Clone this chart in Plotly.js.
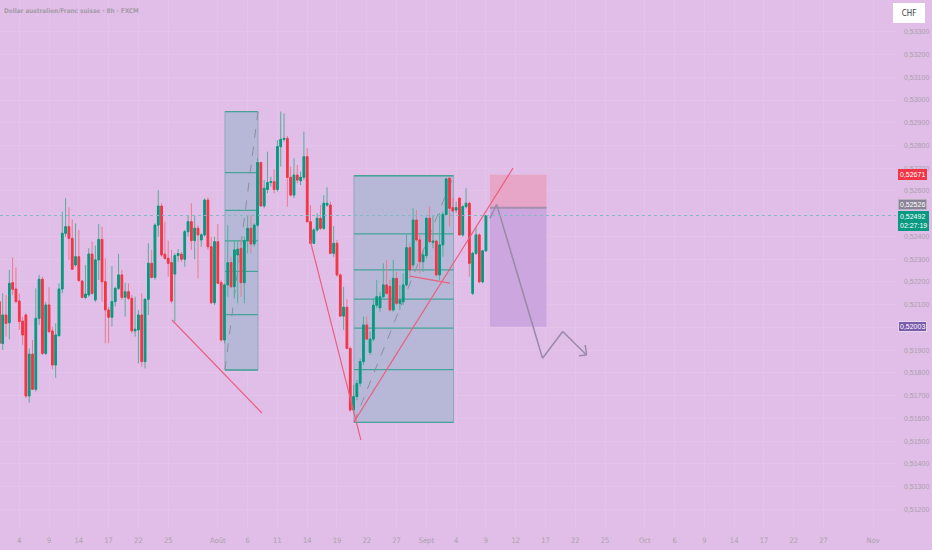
<!DOCTYPE html>
<html><head><meta charset="utf-8">
<script src="https://cdn.plot.ly/plotly-3.0.1.min.js"></script>
<style>html,body{margin:0;padding:0;background:#E1BEE7;}#chart{width:932px;height:550px;}</style>
</head><body><div id="chart"></div>
<script>
// ---- data (AUD/CHF, 8h candles from 2 Jul 2025) ----
const openP = [0.52114,0.51930,0.52055,0.52021,0.52197,0.52169,0.52116,0.52028,0.52055,0.51699,
0.51883,0.51728,0.52040,0.52212,0.51886,0.52099,0.51985,0.51835,0.51964,0.52169,
0.52414,0.52443,0.52392,0.52275,0.52311,0.52204,0.52132,0.52143,0.52323,0.52121,
0.52297,0.52387,0.52201,0.52077,0.52045,0.52114,0.52172,0.52231,0.52133,0.52157,
0.52128,0.51985,0.51989,0.52055,0.51850,0.52124,0.52282,0.52220,0.52450,0.52534,
0.52322,0.52304,0.52285,0.52235,0.52316,0.52322,0.52300,0.52421,0.52465,0.52382,
0.52436,0.52385,0.52407,0.52560,0.52355,0.52109,0.52377,0.52197,0.51945,0.52187,
0.52285,0.52179,0.52319,0.52348,0.52197,0.52382,0.52436,0.52367,0.52450,0.52725,
0.52534,0.52607,0.52637,0.52641,0.52607,0.52795,0.52827,0.52831,0.52660,0.52582,
0.52670,0.52645,0.52660,0.52751,0.52465,0.52370,0.52429,0.52480,0.52436,0.52538,
0.52538,0.52326,0.52370,0.52231,0.52050,0.52089,0.51908,0.51637,0.51696,0.51755,
0.51850,0.52011,0.51890,0.51949,0.52098,0.52087,0.52135,0.52187,0.52180,0.52077,
0.52216,0.52106,0.52113,0.52187,0.52351,0.52275,0.52472,0.52385,0.52289,0.52316,
0.52480,0.52374,0.52380,0.52231,0.52363,0.52497,0.52656,0.52527,0.52516,0.52568,
0.52407,0.52531,0.52546,0.52150,0.52326,0.52407,0.52201,0.52337];
const highP = [0.52150,0.52150,0.52143,0.52253,0.52308,0.52264,0.52150,0.52047,0.52062,0.51908,
0.51945,0.52172,0.52231,0.52223,0.52113,0.52177,0.52004,0.52018,0.52194,0.52509,
0.52568,0.52528,0.52475,0.52458,0.52429,0.52209,0.52275,0.52348,0.52377,0.52360,
0.52455,0.52443,0.52304,0.52091,0.52270,0.52179,0.52323,0.52253,0.52197,0.52194,
0.52143,0.52135,0.52077,0.52150,0.52128,0.52370,0.52341,0.52458,0.52604,0.52546,
0.52465,0.52382,0.52341,0.52326,0.52345,0.52333,0.52429,0.52494,0.52546,0.52494,
0.52450,0.52414,0.52568,0.52572,0.52399,0.52399,0.52455,0.52209,0.52194,0.52450,
0.52311,0.52385,0.52385,0.52385,0.52399,0.52494,0.52494,0.52458,0.52744,0.52729,
0.52648,0.52773,0.52663,0.52695,0.52824,0.52949,0.52941,0.52842,0.52707,0.52744,
0.52714,0.52685,0.52861,0.52788,0.52538,0.52436,0.52502,0.52538,0.52582,0.52616,
0.52553,0.52446,0.52385,0.52238,0.52179,0.52124,0.51916,0.51747,0.51769,0.51864,
0.52048,0.52048,0.51982,0.52128,0.52209,0.52157,0.52282,0.52297,0.52209,0.52297,
0.52245,0.52187,0.52238,0.52414,0.52370,0.52524,0.52516,0.52407,0.52341,0.52487,
0.52531,0.52494,0.52385,0.52502,0.52509,0.52658,0.52663,0.52568,0.52553,0.52575,
0.52538,0.52612,0.52553,0.52333,0.52443,0.52414,0.52341,0.52494];
const lowP = [0.51857,0.51901,0.51960,0.51948,0.52143,0.52106,0.51989,0.51923,0.51689,0.51669,
0.51725,0.51718,0.52011,0.51879,0.51879,0.51974,0.51816,0.51779,0.51960,0.52150,
0.52399,0.52297,0.52253,0.52267,0.52202,0.52128,0.52125,0.52135,0.52143,0.52113,
0.52209,0.52113,0.51930,0.51930,0.52004,0.52092,0.52165,0.52121,0.52048,0.52121,
0.51974,0.51960,0.51842,0.51828,0.51820,0.52055,0.52216,0.52209,0.52399,0.52311,
0.52297,0.52223,0.52106,0.52026,0.52290,0.52289,0.52267,0.52399,0.52341,0.52300,
0.52216,0.52355,0.52399,0.52341,0.52103,0.52099,0.52194,0.51938,0.51930,0.52135,
0.52172,0.52135,0.52106,0.52135,0.52106,0.52326,0.52326,0.52355,0.52443,0.52531,
0.52524,0.52590,0.52619,0.52590,0.52597,0.52707,0.52817,0.52531,0.52575,0.52568,
0.52634,0.52626,0.52648,0.52461,0.52367,0.52367,0.52421,0.52429,0.52429,0.52531,
0.52323,0.52311,0.52223,0.52048,0.51989,0.51904,0.51630,0.51623,0.51681,0.51740,
0.51835,0.51945,0.51879,0.51938,0.52084,0.52069,0.52128,0.52143,0.52069,0.52069,
0.52099,0.52077,0.52099,0.52180,0.52216,0.52260,0.52377,0.52238,0.52245,0.52304,
0.52370,0.52348,0.52223,0.52209,0.52311,0.52494,0.52443,0.52509,0.52502,0.52403,
0.52399,0.52524,0.52223,0.52143,0.52319,0.52194,0.52194,0.52333];
const closeP = [0.51930,0.52055,0.52018,0.52194,0.52168,0.52114,0.52026,0.51967,0.51699,0.51883,
0.51728,0.52040,0.52212,0.51886,0.52099,0.51982,0.51835,0.51967,0.52169,0.52414,
0.52443,0.52392,0.52256,0.52311,0.52206,0.52132,0.52147,0.52323,0.52150,0.52297,
0.52387,0.52201,0.52077,0.52045,0.52114,0.52172,0.52231,0.52132,0.52157,0.52128,
0.51985,0.51992,0.52055,0.51850,0.52124,0.52282,0.52220,0.52450,0.52534,0.52319,
0.52304,0.52282,0.52116,0.52316,0.52325,0.52300,0.52421,0.52465,0.52382,0.52436,
0.52407,0.52407,0.52560,0.52355,0.52109,0.52377,0.52194,0.51945,0.52187,0.52285,
0.52179,0.52341,0.52344,0.52197,0.52382,0.52436,0.52367,0.52450,0.52725,0.52534,
0.52612,0.52637,0.52641,0.52607,0.52795,0.52827,0.52831,0.52660,0.52582,0.52670,
0.52648,0.52660,0.52751,0.52465,0.52370,0.52429,0.52480,0.52436,0.52546,0.52546,
0.52326,0.52370,0.52231,0.52050,0.52089,0.51908,0.51637,0.51696,0.51754,0.51850,
0.52011,0.51949,0.51949,0.52098,0.52135,0.52135,0.52187,0.52150,0.52077,0.52216,
0.52106,0.52121,0.52187,0.52351,0.52253,0.52472,0.52385,0.52289,0.52319,0.52480,
0.52377,0.52380,0.52231,0.52363,0.52497,0.52653,0.52524,0.52512,0.52527,0.52407,
0.52531,0.52546,0.52282,0.52326,0.52407,0.52201,0.52337,0.52492];

const tickDates = ['2025-07-04','2025-07-09','2025-07-14','2025-07-17','2025-07-22','2025-07-25',
'2025-08-01','2025-08-06','2025-08-11','2025-08-14','2025-08-19','2025-08-22','2025-08-27',
'2025-09-01','2025-09-04','2025-09-09','2025-09-12','2025-09-17','2025-09-22','2025-09-25',
'2025-10-01','2025-10-06','2025-10-09','2025-10-14','2025-10-17','2025-10-22','2025-10-27','2025-11-03'];
const tickText = ['4','9','14','17','22','25','Août','6','11','14','19','22','27',
'Sept','4','9','12','17','22','25','Oct','6','9','14','17','22','27','Nov'];
const priceTicks = [0.512,0.513,0.514,0.515,0.516,0.517,0.518,0.519,0.520,0.521,0.522,
0.523,0.524,0.525,0.526,0.527,0.528,0.529,0.530,0.531,0.532,0.533];
const hiddenPriceTicks = [0.520,0.525]; // covered by the price labels in the original
const fibLevels = [0,0.236,0.382,0.5,0.618,0.786,1];
const stopPrice = 0.52671, entryPrice = 0.52526, targetPrice = 0.52003, lastPrice = 0.52492;
const countdown = '02:27:19';
const titleText = 'Dollar australien/Franc suisse · 8h · FXCM';

// ---- helpers ----
const START = Date.UTC(2025,6,2);
function barTime(k){ // k = bar index (8h bars, weekdays only)
  const d = Math.floor(k/3);
  const hrs = (k - 3*d)*8;
  const dt = new Date(START);
  let n = d;
  while(n>0){ dt.setUTCDate(dt.getUTCDate()+1); const w = dt.getUTCDay(); if(w!==0 && w!==6) n--; }
  const t = new Date(dt.getTime() + hrs*3600000);
  return t.toISOString().replace('T',' ').slice(0,19);
}
const fmt = p => p.toFixed(5).replace('.',',');
const times = openP.map((_,i)=>barTime(i));
const bodyHigh = openP.map((o,i)=>Math.max(o,closeP[i]));
const bodyLow = openP.map((o,i)=>Math.min(o,closeP[i]));
const priceTickText = priceTicks.map(p => hiddenPriceTicks.some(h=>Math.abs(h-p)<1e-9) ? '' : fmt(p));

const GREEN='#089981', RED='#f23645';
const wicks = {type:'candlestick', x:times, open:openP, high:highP, low:lowP, close:closeP,
  increasing:{line:{color:'#52ae9c',width:1},fillcolor:'#52ae9c'},
  decreasing:{line:{color:'#ee7890',width:1},fillcolor:'#ee7890'},
  whiskerwidth:0, hoverinfo:'skip', showlegend:false};
const bodies = {type:'candlestick', x:times, open:openP, high:bodyHigh, low:bodyLow, close:closeP,
  increasing:{line:{color:GREEN,width:1},fillcolor:GREEN},
  decreasing:{line:{color:RED,width:1},fillcolor:RED},
  whiskerwidth:0, hoverinfo:'skip', showlegend:false};

// ---- drawings ----
const shapes = [];
function seg(k0,p0,k1,p1,color,width,dash,layer){
  shapes.push({type:'line',xref:'x',yref:'y',x0:barTime(k0),y0:p0,x1:barTime(k1),y1:p1,
    line:{color:color,width:width,dash:dash||'solid'},layer:layer||'above'});
}
function fib(k0,k1,top,bottom){
  shapes.push({type:'rect',xref:'x',yref:'y',x0:barTime(k0),x1:barTime(k1),y0:bottom,y1:top,
    fillcolor:'#b7b8d8',line:{color:'#8fa9bd',width:1},layer:'between'});
  fibLevels.forEach(l=>{
    const p = top - l*(top-bottom);
    seg(k0,p,k1,p,'#45a39a',1.3,'solid','between');
  });
  seg(k0,bottom,k1,top,'#8c8c9e',1,'dash','between');
}
fib(68.15,78.13,0.52949,0.51813);
fib(107.13,137.2,0.52667,0.51583);
// position tool
shapes.push({type:'rect',xref:'x',yref:'y',x0:barTime(148.2),x1:barTime(165.3),y0:entryPrice,y1:stopPrice,
  fillcolor:'#e7a5c7',line:{width:0},layer:'between'});
shapes.push({type:'rect',xref:'x',yref:'y',x0:barTime(148.2),x1:barTime(165.3),y0:targetPrice,y1:entryPrice,
  fillcolor:'#cca6de',line:{width:0},layer:'between'});
seg(148.2,entryPrice,165.3,entryPrice,'#a48fae',2,'solid','between');
// trend lines
const TL='#ec5f80';
seg(52.15,0.52033,79.33,0.51624,TL,1.2);
seg(93.84,0.52385,109.24,0.51505,TL,1.2);
seg(107.13,0.51585,155.2,0.52701,TL,1.2);
seg(124.05,0.52226,136.1,0.52195,TL,1.2);
// projected path
const AR='#9a89a8';
seg(148.2,0.52480,150.24,0.52541,AR,1.5);
seg(150.24,0.52541,164.1,0.51865,AR,1.5);
seg(164.1,0.51865,170.2,0.51982,AR,1.5);
seg(170.2,0.51982,177.4,0.51879,AR,1.5);
seg(177.4,0.51879,177.0,0.51923,AR,1.5);
seg(177.4,0.51879,175.1,0.51876,AR,1.5);
// last price line
shapes.push({type:'line',xref:'paper',x0:0,x1:1,yref:'y',y0:lastPrice,y1:lastPrice,
  line:{color:'#7dbac6',width:1,dash:'dot'},layer:'above'});

const FONT = 'DejaVu Sans Condensed, Liberation Sans, sans-serif';
const NUMFONT = 'Liberation Sans, Arial, sans-serif';
const lab = (y,text,bg,ys,border)=>({xref:'paper',x:1,xanchor:'left',xshift:2,yref:'y',y:y,yanchor:'middle',yshift:ys,
  text:text,showarrow:false,bgcolor:bg,bordercolor:border||bg,borderwidth:1,borderpad:1,
  font:{family:NUMFONT,size:7,color:'#ffffff'},align:'left'});
const annotations = [
  lab(stopPrice,fmt(stopPrice),RED,0),
  lab(entryPrice,fmt(entryPrice),'#8a8596',3.3,'#b6b0c0'),
  lab(lastPrice,fmt(lastPrice)+'<br>'+countdown,GREEN,-5.4),
  lab(targetPrice,fmt(targetPrice),'#7b5cab',0,'#e4d6f0'),
  {xref:'paper',x:1,xanchor:'left',xshift:-3,yref:'paper',y:1,yanchor:'top',yshift:-3,
   text:'CHF',showarrow:false,bgcolor:'#ffffff',bordercolor:'#ffffff',borderpad:2,width:26,height:14,
   font:{family:FONT,size:8,color:'#3a3a44'}}
];

const layout = {
  width:932, height:550,
  margin:{l:0,r:36,t:0,b:22},
  paper_bgcolor:'#E1BEE7', plot_bgcolor:'#E1BEE7',
  separators:', ',
  showlegend:false,
  title:{text:titleText, xref:'container', x:4/932, xanchor:'left', yref:'container', y:1-11/550, yanchor:'middle',
    font:{family:FONT,size:6.4,color:'#a39ca7',weight:'bold'}},
  xaxis:{type:'date', rangeslider:{visible:false}, rangebreaks:[{bounds:['sat','mon']}],
    range:[barTime(0.18), barTime(270.9)],
    tickvals:tickDates.map(d=>d+' 00:00:00'), ticktext:tickText, tickmode:'array',
    showgrid:true, gridcolor:'#e3c3e9', gridwidth:1, zeroline:false, showline:false, ticks:'',
    ticklabelstandoff:6, tickfont:{family:FONT,size:7.5,color:'#aaa1ad'}, fixedrange:true},
  yaxis:{side:'right', range:[0.511185,0.534396], tickvals:priceTicks, ticktext:priceTickText, tickmode:'array',
    showgrid:true, gridcolor:'#e3c3e9', gridwidth:1, zeroline:false, showline:false, ticks:'',
    ticklabelstandoff:7, tickfont:{family:NUMFONT,size:7,color:'#aaa1ad'}, fixedrange:true},
  shapes:shapes, annotations:annotations, hovermode:false
};
Plotly.newPlot('chart',[wicks,bodies],layout,{staticPlot:true,displayModeBar:false});
</script></body></html>
